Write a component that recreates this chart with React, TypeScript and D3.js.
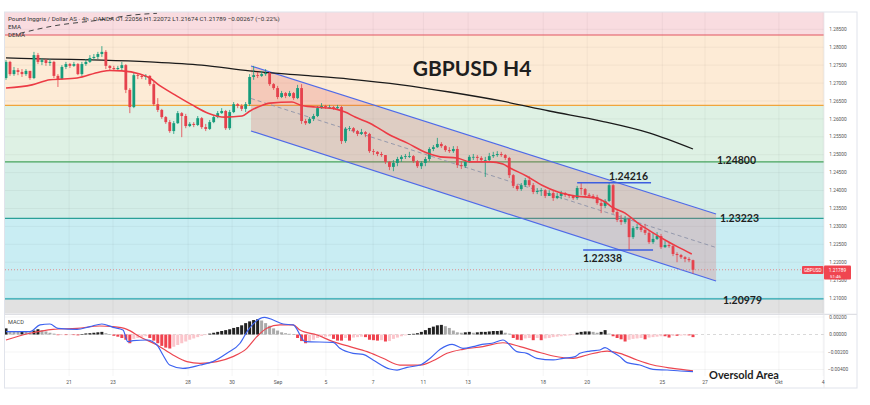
import React from 'react';
import * as d3 from 'd3';

// ---------- DATA ----------
const firstOpen = 1.2714;
const closes = [
  1.2759, 1.2725, 1.2736, 1.2731, 1.2725, 1.2734, 1.2714, 1.2778, 1.2759, 1.2764,
  1.2756, 1.2759, 1.2720, 1.2711, 1.2745, 1.2753, 1.2748, 1.2753, 1.2725, 1.2753,
  1.2759, 1.2770, 1.2773, 1.2781, 1.2787, 1.2748, 1.2742, 1.2739, 1.2742, 1.2750,
  1.2681, 1.2633, 1.2722, 1.2720, 1.2717, 1.2720, 1.2697, 1.2641, 1.2625, 1.2605,
  1.2591, 1.2566, 1.2588, 1.2616, 1.2608, 1.2580, 1.2586, 1.2583, 1.2602, 1.2577,
  1.2572, 1.2591, 1.2605, 1.2616, 1.2622, 1.2574, 1.2619, 1.2641, 1.2636, 1.2628,
  1.2641, 1.2717, 1.2722, 1.2720, 1.2725, 1.2728, 1.2697, 1.2686, 1.2661, 1.2672,
  1.2664, 1.2672, 1.2658, 1.2686, 1.2594, 1.2588, 1.2600, 1.2608, 1.2630, 1.2636,
  1.2633, 1.2633, 1.2630, 1.2633, 1.2538, 1.2572, 1.2574, 1.2566, 1.2558, 1.2563,
  1.2558, 1.2510, 1.2508, 1.2502, 1.2499, 1.2480, 1.2466, 1.2477, 1.2488, 1.2494,
  1.2496, 1.2496, 1.2482, 1.2468, 1.2477, 1.2488, 1.2516, 1.2521, 1.2530, 1.2524,
  1.2513, 1.2510, 1.2516, 1.2471, 1.2468, 1.2480, 1.2494, 1.2494, 1.2491, 1.2485,
  1.2485, 1.2496, 1.2499, 1.2502, 1.2499, 1.2491, 1.2443, 1.2413, 1.2404, 1.2415,
  1.2429, 1.2415, 1.2396, 1.2399, 1.2401, 1.2385, 1.2393, 1.2379, 1.2385, 1.2393,
  1.2388, 1.2385, 1.2379, 1.2407, 1.2404, 1.2388, 1.2385, 1.2382, 1.2365, 1.2357,
  1.2371, 1.2415, 1.2340, 1.2318, 1.2312, 1.2321, 1.2270, 1.2295, 1.2298, 1.2290,
  1.2282, 1.2256, 1.2265, 1.2273, 1.2242, 1.2248, 1.2245, 1.2223, 1.2220, 1.2214,
  1.2209, 1.22056, 1.21789,
];
const highs = [
  1.2764, 1.2762, 1.2745, 1.2742, 1.2739, 1.2739, 1.2731, 1.2787, 1.2784, 1.2770,
  1.2767, 1.2767, 1.2762, 1.2725, 1.2750, 1.2759, 1.2756, 1.2759, 1.2756, 1.2759,
  1.2767, 1.2778, 1.2781, 1.2787, 1.2803, 1.2792, 1.2750, 1.2748, 1.2748, 1.2759,
  1.2753, 1.2686, 1.2728, 1.2728, 1.2725, 1.2725, 1.2722, 1.2703, 1.2658, 1.2628,
  1.2608, 1.2597, 1.2594, 1.2622, 1.2619, 1.2614, 1.2591, 1.2591, 1.2608, 1.2605,
  1.2586, 1.2597, 1.2611, 1.2622, 1.2630, 1.2625, 1.2625, 1.2647, 1.2644, 1.2641,
  1.2647, 1.2725, 1.2748, 1.2731, 1.2734, 1.2739, 1.2731, 1.2700, 1.2692, 1.2678,
  1.2675, 1.2678, 1.2675, 1.2695, 1.2697, 1.2600, 1.2605, 1.2614, 1.2636, 1.2644,
  1.2639, 1.2639, 1.2636, 1.2639, 1.2636, 1.2577, 1.2580, 1.2577, 1.2569, 1.2572,
  1.2566, 1.2561, 1.2516, 1.2510, 1.2508, 1.2499, 1.2482, 1.2485, 1.2494, 1.2499,
  1.2502, 1.2508, 1.2499, 1.2485, 1.2482, 1.2494, 1.2521, 1.2527, 1.2547, 1.2535,
  1.2527, 1.2521, 1.2524, 1.2524, 1.2482, 1.2485, 1.2499, 1.2502, 1.2499, 1.2496,
  1.2494, 1.2505, 1.2508, 1.2510, 1.2508, 1.2502, 1.2494, 1.2446, 1.2418, 1.2421,
  1.2435, 1.2440, 1.2421, 1.2407, 1.2407, 1.2404, 1.2401, 1.2399, 1.2393, 1.2399,
  1.2396, 1.2390, 1.2388, 1.2413, 1.24216, 1.2407, 1.2393, 1.2390, 1.2388, 1.2374,
  1.2376, 1.2421, 1.2418, 1.2346, 1.2332, 1.2329, 1.2323, 1.2301, 1.2307, 1.2304,
  1.2307, 1.2287, 1.2282, 1.2284, 1.2279, 1.2259, 1.2254, 1.2248, 1.2228, 1.2223,
  1.2217, 1.2214, 1.22072,
];
const lows = [
  1.2709, 1.2720, 1.2720, 1.2722, 1.2717, 1.2720, 1.2709, 1.2711, 1.2753, 1.2750,
  1.2748, 1.2748, 1.2714, 1.2689, 1.2709, 1.2739, 1.2742, 1.2745, 1.2722, 1.2720,
  1.2748, 1.2756, 1.2764, 1.2767, 1.2773, 1.2739, 1.2734, 1.2734, 1.2734, 1.2736,
  1.2672, 1.2616, 1.2630, 1.2711, 1.2711, 1.2709, 1.2692, 1.2636, 1.2619, 1.2600,
  1.2586, 1.2561, 1.2558, 1.2586, 1.2549, 1.2574, 1.2577, 1.2577, 1.2580, 1.2572,
  1.2566, 1.2569, 1.2588, 1.2602, 1.2614, 1.2569, 1.2569, 1.2616, 1.2630, 1.2622,
  1.2619, 1.2636, 1.2709, 1.2714, 1.2717, 1.2720, 1.2692, 1.2681, 1.2655, 1.2658,
  1.2658, 1.2661, 1.2653, 1.2655, 1.2586, 1.2583, 1.2586, 1.2594, 1.2605, 1.2628,
  1.2628, 1.2628, 1.2625, 1.2625, 1.2530, 1.2533, 1.2566, 1.2561, 1.2552, 1.2555,
  1.2549, 1.2505, 1.2499, 1.2496, 1.2494, 1.2474, 1.2457, 1.2454, 1.2468, 1.2480,
  1.2488, 1.2491, 1.2477, 1.2463, 1.2460, 1.2468, 1.2482, 1.2510, 1.2519, 1.2519,
  1.2508, 1.2505, 1.2505, 1.2463, 1.2460, 1.2463, 1.2477, 1.2485, 1.2482, 1.2480,
  1.2438, 1.2480, 1.2491, 1.2494, 1.2494, 1.2485, 1.2435, 1.2407, 1.2399, 1.2399,
  1.2410, 1.2410, 1.2390, 1.2390, 1.2385, 1.2379, 1.2385, 1.2371, 1.2376, 1.2376,
  1.2382, 1.2379, 1.2374, 1.2374, 1.2388, 1.2382, 1.2379, 1.2376, 1.2360, 1.2337,
  1.2351, 1.2368, 1.2335, 1.2312, 1.2304, 1.2307, 1.22338, 1.2265, 1.2290, 1.2284,
  1.2276, 1.2251, 1.2251, 1.2262, 1.2237, 1.2240, 1.2240, 1.2217, 1.2200, 1.2209,
  1.2200, 1.2200, 1.21674,
];

// long moving average (black)
const maBars = [0, 11, 24, 36, 49, 61, 74, 86, 99, 111, 124, 136, 149, 161, 172];
const maValues = [1.2770, 1.2767, 1.2764, 1.2759, 1.2750, 1.2734, 1.2722, 1.2711, 1.2695, 1.2675, 1.2650, 1.2622, 1.2594, 1.2561, 1.2516];

// EMA (red)
const emaBars = [0, 6.5, 11, 17.8, 23.5, 26, 29, 33.5, 36, 38.6, 42.3, 46.6, 50.6, 54.8, 59.1, 61.1, 63.1, 66.1, 71.6, 73.6, 77.4, 82.4, 84.9, 87.4, 91.1, 96.1, 100.4, 105.4, 108.7, 112.9, 116.2, 121.2, 124.4, 126.2, 130.4, 134.2, 138.2, 142.5, 147.5, 150, 151.7, 155, 158.2, 161.7, 165, 168.3, 171.7];
const emaValues = [1.2686, 1.2695, 1.2709, 1.2714, 1.2731, 1.2735, 1.2734, 1.2725, 1.2714, 1.2692, 1.2667, 1.2639, 1.2616, 1.2605, 1.2608, 1.2622, 1.2633, 1.2644, 1.2647, 1.2639, 1.2633, 1.2628, 1.2619, 1.2605, 1.2588, 1.2555, 1.2533, 1.2505, 1.2494, 1.2491, 1.2480, 1.2480, 1.2474, 1.2463, 1.2440, 1.2415, 1.2396, 1.2385, 1.2379, 1.2368, 1.2354, 1.2337, 1.2309, 1.2284, 1.2262, 1.2242, 1.2223];

// DEMA (dashed, leaving the top)
const demaBars = [3.5, 11.8, 23.5, 31.8, 37.8];
const demaValues = [1.28389, 1.28592, 1.2876, 1.28899, 1.28947];

// regression channel
const channelBars = [61.34, 177.77];
const channelUpper = [1.27476, 1.23345];
const channelLower = [1.25662, 1.21475];

// horizontal levels
const levelPrices = [1.28341, 1.26379, 1.248, 1.23223, 1.20979];
const levelColors = ['#e25560', '#f0a53c', '#46a35c', '#2aa198', '#22a6b0'];
const bandColors = ['#f9dce0', '#fdebd6', '#def1e4', '#d3ede7', '#c9edf3', '#e1e1e1'];

const swingHigh = 1.24216;
const swingHighBars = [143, 161.5];
const swingLow = 1.22338;
const swingLowBars = [144.5, 162];
const lastPrice = 1.21789;

// MACD (values in thousandths)
const macdBars = [0, 6, 8.5, 11, 13, 17.8, 21, 24, 26.8, 29.3, 30.5, 31.8, 35.3, 37.8, 39.3, 41, 44.3, 48.6, 51.8, 55.3, 58.6, 60.6, 64.8, 66.9, 69.4, 71.9, 74.9, 81.9, 83.6, 86.9, 89.4, 91.9, 96.1, 97.9, 100.4, 103.7, 106.2, 108.7, 111.7, 114.4, 116.9, 119.2, 121.7, 124.4, 127.9, 130.4, 132.9, 137, 139.5, 142.5, 143.7, 146.2, 148.7, 150, 151.7, 153.7, 155.5, 158.7, 162, 165.5, 168.8, 172];
const macdMilli = [0.32, 0.32, 1.09, 1.2, 0.71, 0.59, 0.9, 1.2, 0.82, 0.51, -0.82, -0.7, -0.63, -1.2, -2.34, -3.49, -3.87, -3.49, -3.1, -2.15, -1.0, 0.51, 1.96, 1.66, 1.2, 1.09, -0.82, -0.9, -1.58, -2.15, -2.27, -2.91, -3.94, -4.06, -3.75, -3.49, -2.72, -1.69, -1.12, -1.58, -1.39, -1.12, -1.0, -0.63, -1.96, -2.15, -2.72, -2.91, -2.72, -2.53, -2.15, -1.89, -1.77, -1.5, -1.96, -2.53, -3.22, -3.49, -3.98, -4.06, -4.17, -4.25];
const signalBars = [0, 6, 11.8, 17.8, 23.5, 26.8, 30.3, 33.5, 37.8, 41.8, 45.3, 48.6, 52.8, 56.8, 60.3, 62.8, 65.3, 68.6, 71.9, 73.6, 77.9, 81.9, 86.1, 90.4, 94.4, 98.6, 103.7, 106.9, 110.4, 114.4, 119.4, 124.4, 128.7, 132.9, 137, 142, 145.5, 150.5, 153.7, 158, 162, 167, 172];
const signalMilli = [-0.63, 0.14, 0.59, 0.71, 0.97, 0.9, 0.59, -0.25, -1.2, -2.34, -3.1, -3.3, -3.1, -2.53, -1.58, -0.25, 0.71, 1.09, 1.09, 0.51, -0.06, -0.82, -1.39, -1.96, -2.72, -3.49, -3.49, -3.0, -2.15, -1.69, -1.39, -0.94, -1.39, -1.96, -2.46, -2.72, -2.34, -1.89, -2.15, -2.91, -3.49, -3.87, -4.14];
const histMilli = [
  0.7, 0.4, 0.35, 0.3, 0.35, 0.3, 0.25, 0.45, 0.6, 0.5,
  0.35, 0.2, 0.1, -0.08, -0.03, -0.05, -0.03, -0.06, -0.1, 0.05,
  0.12, 0.15, 0.2, 0.25, 0.3, 0.15, 0.05, -0.15, -0.25, -0.4,
  -0.6, -1.0, -0.5, -0.4, -0.3, -0.2, -0.4, -0.7, -1.0, -1.3,
  -1.5, -1.6, -1.4, -1.2, -1.0, -0.8, -0.6, -0.45, -0.3, -0.15,
  -0.05, 0.1, 0.2, 0.3, 0.4, 0.5, 0.6, 0.75, 0.85, 1.05,
  1.3, 1.5, 1.65, 1.75, 1.6, 1.3, 1.0, 0.7, 0.45, 0.25,
  0.15, 0.08, 0.05, -0.4, -0.75, -1.0, -0.8, -0.6, -0.4, -0.3,
  -0.25, -0.2, -0.5, -0.7, -0.7, -0.4, -0.7, -0.35, -0.3, -0.25,
  -0.3, -0.6, -0.65, -0.7, -0.65, -0.8, -0.75, -0.5, -0.35, -0.2,
  -0.1, 0.05, 0.08, 0.15, 0.3, 0.5, 0.75, 0.9, 1.05, 1.1,
  0.95, 0.75, 0.45, 0.25, 0.2, 0.25, 0.3, 0.2, 0.25, 0.3,
  0.3, 0.35, 0.4, 0.4, 0.45, 0.2, 0.1, -0.4, -0.6, -0.65,
  -0.45, -0.4, -0.65, -0.4, -0.65, -0.45, -0.4, -0.3, -0.25, -0.2,
  -0.15, -0.1, -0.05, 0.2, 0.3, 0.35, 0.35, 0.3, 0.2, 0.3,
  0.5, 0.1, -0.2, -0.4, -0.55, -0.8, -0.6, -0.5, -0.45, -0.4,
  -0.55, -0.35, -0.3, -0.25, -0.2, -0.2, -0.35, -0.15, -0.15, -0.12,
  -0.1, -0.1, -0.3,
];

const dateLabels = ['21', '23', '28', '30', 'Sep', '5', '7', '11', '13', '18', '20', '25', '27', 'Okt', '4'];
const dateBars = [15.8, 26.8, 45.6, 56.6, 68.1, 80.1, 91.9, 104.5, 115.7, 134.5, 145.5, 164.3, 175.0, 193.5, 204.6];
const priceTicks = [1.285, 1.28, 1.275, 1.27, 1.265, 1.26, 1.255, 1.25, 1.245, 1.24, 1.235, 1.23, 1.225, 1.22, 1.215, 1.21];
const macdTicks = [0.002, 0, -0.002, -0.004];

// ---------- LAYOUT ----------
const W = 870, H = 405;
const L = 5, R = 824, TOP = 12, MAIN_B = 313.5, MACD_T = 315, MACD_B = 376, BOTTOM = 388, AXR = 857;
const SMALL = 'Roboto, "Noto Sans", sans-serif';
const BOLD = 'Lato, "Noto Sans", sans-serif';

const x = d3.scaleLinear().domain([0, 172]).range([6, 693]);
const y = d3.scaleLinear().domain([1.21, 1.285]).range([298.03, 29.31]);
const ym = d3.scaleLinear().domain([-0.004, 0.002]).range([369.5, 317]);

const UP = '#169c7c';
const DOWN = '#e5424d';

function seriesPath(bars: number[], vals: number[], sy: (v: number) => number, scale = 1) {
  const line = d3.line<number>()
    .x((_, i) => x(bars[i]))
    .y((d) => sy(d * scale))
    .curve(d3.curveMonotoneX);
  return line(vals) || '';
}

export default function App() {
  const bandEdges = [TOP, ...levelPrices.map((p) => y(p)), MAIN_B];
  const candles = closes.map((c, i) => {
    const o = i === 0 ? firstOpen : closes[i - 1];
    const h = Math.max(highs[i], o, c);
    const l = Math.min(lows[i], o, c);
    return { o, h, l, c, i };
  });

  const chPoly = [
    [x(channelBars[0]), y(channelUpper[0])],
    [x(channelBars[1]), y(channelUpper[1])],
    [x(channelBars[1]), y(channelLower[1])],
    [x(channelBars[0]), y(channelLower[0])],
  ].map((p) => p.join(',')).join(' ');
  const midStart = (channelUpper[0] + channelLower[0]) / 2;
  const midEnd = (channelUpper[1] + channelLower[1]) / 2;

  return (
    <svg width={W} height={H} style={{ position: 'absolute', left: 0, top: 0, background: '#fff' }}>
      <defs>
        <clipPath id="mainClip"><rect x={L} y={TOP} width={R - L} height={MAIN_B - TOP} /></clipPath>
        <clipPath id="macdClip"><rect x={L} y={MACD_T} width={R - L} height={MACD_B - MACD_T} /></clipPath>
      </defs>

      {/* background bands */}
      {bandColors.map((c, i) => (
        <rect key={'b' + i} x={L} y={bandEdges[i]} width={R - L} height={bandEdges[i + 1] - bandEdges[i]} fill={c} />
      ))}

      {/* grid */}
      <g stroke="rgba(0,0,0,0.045)" strokeWidth={1}>
        {dateBars.map((b, i) => (
          <line key={'vg' + i} x1={x(b)} x2={x(b)} y1={TOP} y2={MACD_B} />
        ))}
        {priceTicks.map((p, i) => (
          <line key={'hg' + i} x1={L} x2={R} y1={y(p)} y2={y(p)} />
        ))}
        {macdTicks.filter((t) => t !== 0).map((t, i) => (
          <line key={'mg' + i} x1={L} x2={R} y1={ym(t)} y2={ym(t)} />
        ))}
      </g>

      <g clipPath="url(#mainClip)">
        {/* level lines */}
        {levelPrices.map((p, i) => (
          <line key={'lv' + i} x1={L} x2={R} y1={y(p)} y2={y(p)} stroke={levelColors[i]} strokeWidth={1.2} />
        ))}

        {/* channel */}
        <polygon points={chPoly} fill="rgba(222, 92, 90, 0.24)" />
        <line x1={x(channelBars[0])} y1={y(channelUpper[0])} x2={x(channelBars[1])} y2={y(channelUpper[1])} stroke="#4f6ae8" strokeWidth={1.2} />
        <line x1={x(channelBars[0])} y1={y(channelLower[0])} x2={x(channelBars[1])} y2={y(channelLower[1])} stroke="#4f6ae8" strokeWidth={1.2} />
        <line x1={x(channelBars[0])} y1={y(midStart)} x2={x(channelBars[1])} y2={y(midEnd)} stroke="#8d93a8" strokeWidth={0.9} strokeDasharray="4,3" />

        {/* last price dotted */}
        <line x1={L} x2={R} y1={y(lastPrice)} y2={y(lastPrice)} stroke="#e57373" strokeWidth={0.8} strokeDasharray="1,2" />

        {/* moving averages */}
        <path d={seriesPath(maBars, maValues, y)} fill="none" stroke="#1b1b1b" strokeWidth={1.3} />
        <path d={seriesPath(demaBars, demaValues, y)} fill="none" stroke="#444" strokeWidth={1} strokeDasharray="5,4" />

        {/* candles */}
        {candles.map((d) => {
          const up = d.c >= d.o;
          const col = up ? UP : DOWN;
          const yTop = y(Math.max(d.o, d.c));
          const yBot = y(Math.min(d.o, d.c));
          return (
            <g key={'c' + d.i}>
              <line x1={x(d.i)} x2={x(d.i)} y1={y(d.h)} y2={y(d.l)} stroke={col} strokeWidth={0.8} />
              <rect x={x(d.i) - 1.4} y={yTop} width={2.8} height={Math.max(0.8, yBot - yTop)} fill={col} />
            </g>
          );
        })}

        <path d={seriesPath(emaBars, emaValues, y)} fill="none" stroke="#ec3b45" strokeWidth={1.6} />

        {/* swing lines */}
        <line x1={x(swingHighBars[0])} x2={x(swingHighBars[1])} y1={y(swingHigh)} y2={y(swingHigh)} stroke="#3d5ee0" strokeWidth={1.5} />
        <line x1={x(swingLowBars[0])} x2={x(swingLowBars[1])} y1={y(swingLow)} y2={y(swingLow)} stroke="#3d5ee0" strokeWidth={1.5} />
      </g>

      {/* annotations */}
      <g fontFamily={BOLD} fontWeight={700} fill="#1e1e1e">
        <text x={472} y={76} fontSize={21} textAnchor="middle">GBPUSD H4</text>
        <text x={717} y={164} fontSize={10.5}>{levelPrices[2].toFixed(5)}</text>
        <text x={720} y={222} fontSize={10.5}>{levelPrices[3].toFixed(5)}</text>
        <text x={723} y={304} fontSize={10.5}>{levelPrices[4].toFixed(5)}</text>
        <text x={609} y={180} fontSize={10.5}>{swingHigh.toFixed(5)}</text>
        <text x={583} y={262} fontSize={10.5}>{swingLow.toFixed(5)}</text>
        <text x={709} y={378.5} fontSize={11}>Oversold Area</text>
      </g>

      {/* header legend */}
      <g fontFamily={SMALL} fontSize={6.2} fill="#333">
        <text x={8} y={21}>Pound Inggris / Dollar AS · 4h · OANDA  O1.22056 H1.22072 L1.21674 C1.21789 −0.00267 (−0.22%)</text>
        <text x={8} y={29}>EMA</text>
        <text x={8} y={37}>DEMA</text>
      </g>

      {/* MACD pane */}
      <line x1={L} x2={AXR} y1={314.3} y2={314.3} stroke="#d6d8de" strokeWidth={1} />
      <line x1={L} x2={R} y1={ym(0)} y2={ym(0)} stroke="#c9c9c9" strokeWidth={0.7} strokeDasharray="3,3" />
      <g clipPath="url(#macdClip)">
        {histMilli.map((v, i) => {
          const prev = i === 0 ? 0 : histMilli[i - 1];
          let col;
          if (v >= 0) col = v >= prev ? '#222222' : '#a9a9a9';
          else col = v <= prev ? '#f0434f' : '#fbc5cb';
          const y0 = ym(0), y1 = ym(v / 1000);
          return <rect key={'h' + i} x={x(i) - 1.5} y={Math.min(y0, y1)} width={3} height={Math.max(0.6, Math.abs(y1 - y0))} fill={col} />;
        })}
        <path d={seriesPath(signalBars, signalMilli, ym, 0.001)} fill="none" stroke="#ec4650" strokeWidth={1.2} />
        <path d={seriesPath(macdBars, macdMilli, ym, 0.001)} fill="none" stroke="#3d63f0" strokeWidth={1.2} />
      </g>
      <text x={8} y={324} fontFamily={SMALL} fontSize={5.6} fill="#444">MACD</text>

      {/* frame */}
      <rect x={4.5} y={TOP} width={AXR - 4.5} height={BOTTOM - TOP} fill="none" stroke="#e0e3eb" strokeWidth={1} />
      <line x1={R} x2={R} y1={TOP} y2={BOTTOM} stroke="#e8e8ec" strokeWidth={0.8} />

      {/* price axis */}
      <g fontFamily={SMALL} fontSize={4.8} fill="#555" textAnchor="middle">
        {priceTicks.map((p, i) => (
          <text key={'pt' + i} x={838} y={y(p) + 1.7}>{p.toFixed(5)}</text>
        ))}
        {macdTicks.map((t, i) => (
          <text key={'mt' + i} x={838} y={ym(t) + 1.7}>{(t < 0 ? '−' : '') + Math.abs(t).toFixed(5)}</text>
        ))}
      </g>

      {/* price tags */}
      <rect x={802} y={266} width={21.5} height={8} rx={1} fill="#f04550" />
      <text x={812.7} y={272} fontFamily={SMALL} fontSize={4.6} fill="#fff" textAnchor="middle">GBPUSD</text>
      <rect x={824} y={265.5} width={27} height={14} rx={1} fill="#f04550" />
      <text x={837.5} y={271.5} fontFamily={SMALL} fontSize={4.8} fill="#fff" textAnchor="middle">{lastPrice.toFixed(5)}</text>
      <text x={830} y={277.5} fontFamily={SMALL} fontSize={4.4} fill="#fff">51:46</text>

      {/* time axis */}
      <g fontFamily={SMALL} fontSize={5} fill="#555" textAnchor="middle">
        {dateLabels.map((t, i) => (
          <text key={'dt' + i} x={x(dateBars[i])} y={384}>{t}</text>
        ))}
      </g>
    </svg>
  );
}
